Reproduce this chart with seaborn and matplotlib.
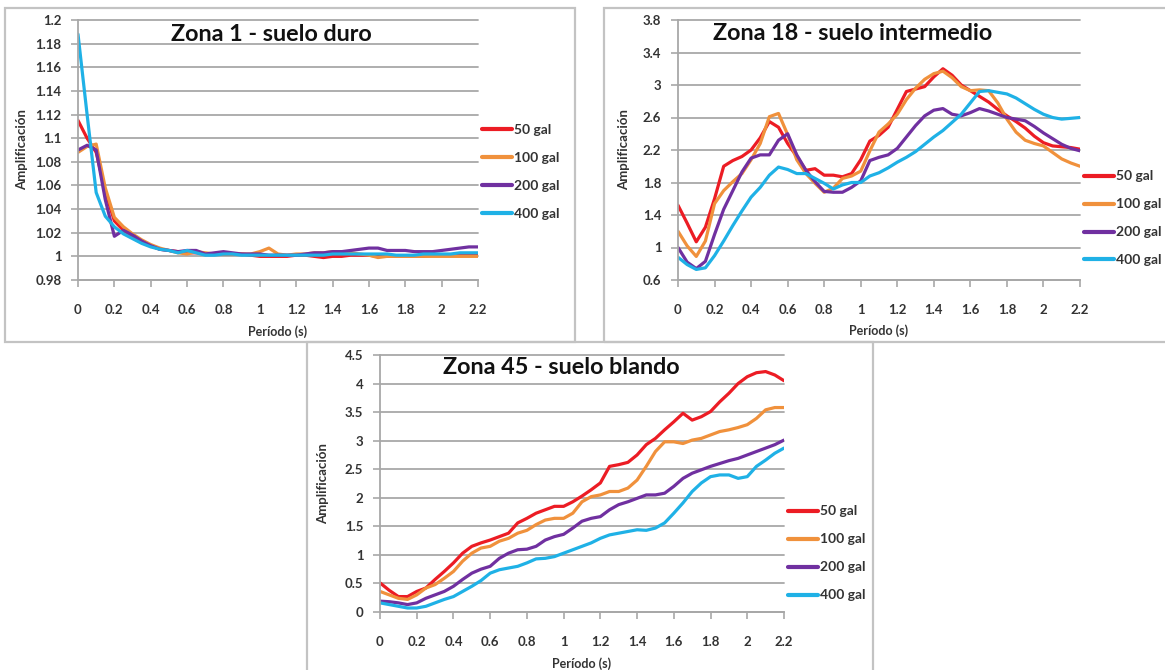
import numpy as np
import pandas as pd
import seaborn as sns
import matplotlib
matplotlib.use('Agg')
import matplotlib.pyplot as plt
from matplotlib.patches import Rectangle

# periods (s), same grid for the three zones
periodo = [0.0, 0.05, 0.1, 0.15, 0.2, 0.25, 0.3, 0.35, 0.4, 0.45, 0.5, 0.55, 0.6, 0.65, 0.7,
           0.75, 0.8, 0.85, 0.9, 0.95, 1.0, 1.05, 1.1, 1.15, 1.2, 1.25, 1.3, 1.35, 1.4, 1.45,
           1.5, 1.55, 1.6, 1.65, 1.7, 1.75, 1.8, 1.85, 1.9, 1.95, 2.0, 2.05, 2.1, 2.15, 2.2]
series = ['50 gal', '100 gal', '200 gal', '400 gal']
colores = ['#ec1c24', '#f0913c', '#7030a0', '#1fb1e6']

# Zona 1 - suelo duro
z1_50 = [1.115, 1.100, 1.088, 1.055, 1.030, 1.022, 1.017, 1.013, 1.009, 1.006, 1.005, 1.004, 1.003, 1.003, 1.002,
         1.002, 1.002, 1.002, 1.002, 1.001, 1.000, 1.000, 1.000, 1.000, 1.001, 1.001, 1.000, 0.999, 1.000, 1.000,
         1.001, 1.001, 1.001, 1.000, 1.000, 1.000, 1.000, 1.000, 1.000, 1.001, 1.001, 1.001, 1.001, 1.001, 1.001]
z1_100 = [1.088, 1.093, 1.095, 1.058, 1.033, 1.025, 1.019, 1.014, 1.010, 1.007, 1.005, 1.003, 1.002, 1.004, 1.003,
          1.002, 1.002, 1.002, 1.002, 1.002, 1.004, 1.007, 1.002, 1.001, 1.002, 1.002, 1.003, 1.003, 1.004, 1.004,
          1.003, 1.002, 1.001, 0.999, 1.000, 1.000, 1.000, 1.000, 1.000, 1.000, 1.000, 1.000, 1.000, 1.000, 1.000]
z1_200 = [1.090, 1.094, 1.090, 1.048, 1.017, 1.022, 1.018, 1.013, 1.009, 1.006, 1.005, 1.004, 1.005, 1.005, 1.002,
          1.003, 1.004, 1.003, 1.002, 1.002, 1.002, 1.001, 1.001, 1.001, 1.001, 1.002, 1.003, 1.003, 1.004, 1.004,
          1.005, 1.006, 1.007, 1.007, 1.005, 1.005, 1.005, 1.004, 1.004, 1.004, 1.005, 1.006, 1.007, 1.008, 1.008]
z1_400 = [1.188, 1.120, 1.054, 1.034, 1.025, 1.019, 1.015, 1.011, 1.008, 1.006, 1.005, 1.003, 1.005, 1.003, 1.001,
          1.001, 1.002, 1.002, 1.001, 1.001, 1.001, 1.001, 1.001, 1.001, 1.001, 1.001, 1.001, 1.001, 1.002, 1.002,
          1.002, 1.002, 1.002, 1.002, 1.002, 1.001, 1.001, 1.001, 1.002, 1.002, 1.002, 1.002, 1.003, 1.003, 1.003]

# Zona 18 - suelo intermedio
z18_50 = [1.52, 1.30, 1.07, 1.25, 1.60, 2.00, 2.07, 2.12, 2.20, 2.35, 2.55, 2.48, 2.28, 2.12, 1.95,
          1.97, 1.89, 1.89, 1.87, 1.91, 2.08, 2.31, 2.38, 2.48, 2.70, 2.92, 2.95, 2.98, 3.10, 3.20,
          3.12, 3.00, 2.93, 2.86, 2.79, 2.70, 2.62, 2.55, 2.47, 2.37, 2.29, 2.25, 2.24, 2.23, 2.21]
z18_100 = [1.20, 1.02, 0.89, 1.08, 1.54, 1.70, 1.81, 1.91, 2.08, 2.28, 2.61, 2.65, 2.39, 2.08, 1.91,
           1.79, 1.68, 1.73, 1.85, 1.88, 1.94, 2.19, 2.42, 2.52, 2.64, 2.82, 2.96, 3.07, 3.14, 3.17,
           3.09, 2.98, 2.93, 2.94, 2.93, 2.78, 2.58, 2.42, 2.32, 2.28, 2.25, 2.17, 2.09, 2.04, 2.00]
z18_200 = [1.00, 0.82, 0.74, 0.83, 1.16, 1.47, 1.70, 1.93, 2.10, 2.14, 2.14, 2.32, 2.40, 2.14, 1.95,
           1.81, 1.69, 1.68, 1.68, 1.74, 1.82, 2.07, 2.11, 2.14, 2.22, 2.36, 2.50, 2.62, 2.69, 2.71,
           2.64, 2.62, 2.66, 2.71, 2.68, 2.64, 2.60, 2.58, 2.56, 2.49, 2.41, 2.34, 2.27, 2.22, 2.19]
z18_400 = [0.88, 0.79, 0.73, 0.75, 0.90, 1.08, 1.27, 1.45, 1.62, 1.74, 1.89, 1.99, 1.96, 1.91, 1.91,
           1.85, 1.79, 1.72, 1.77, 1.80, 1.80, 1.88, 1.92, 1.98, 2.05, 2.11, 2.18, 2.27, 2.36, 2.44,
           2.54, 2.64, 2.78, 2.92, 2.93, 2.91, 2.89, 2.84, 2.77, 2.70, 2.64, 2.60, 2.58, 2.59, 2.60]

# Zona 45 - suelo blando
z45_50 = [0.51, 0.38, 0.27, 0.27, 0.36, 0.42, 0.57, 0.71, 0.86, 1.03, 1.15, 1.21, 1.26, 1.32, 1.38,
          1.56, 1.64, 1.73, 1.79, 1.85, 1.85, 1.93, 2.03, 2.14, 2.26, 2.55, 2.58, 2.62, 2.75, 2.93,
          3.04, 3.19, 3.33, 3.48, 3.36, 3.42, 3.51, 3.68, 3.83, 4.00, 4.12, 4.19, 4.21, 4.15, 4.05]
z45_100 = [0.36, 0.30, 0.24, 0.22, 0.30, 0.42, 0.48, 0.59, 0.71, 0.89, 1.03, 1.12, 1.15, 1.24, 1.29,
           1.38, 1.43, 1.53, 1.61, 1.64, 1.64, 1.73, 1.93, 2.02, 2.05, 2.11, 2.11, 2.17, 2.31, 2.55,
           2.81, 2.98, 2.98, 2.95, 3.01, 3.04, 3.10, 3.16, 3.19, 3.23, 3.28, 3.39, 3.54, 3.58, 3.58]
z45_200 = [0.19, 0.18, 0.16, 0.13, 0.16, 0.24, 0.30, 0.36, 0.45, 0.57, 0.68, 0.75, 0.80, 0.94, 1.03,
           1.09, 1.10, 1.15, 1.26, 1.32, 1.36, 1.47, 1.59, 1.64, 1.67, 1.79, 1.88, 1.93, 1.99, 2.05,
           2.05, 2.08, 2.20, 2.34, 2.43, 2.49, 2.55, 2.60, 2.65, 2.69, 2.75, 2.81, 2.87, 2.93, 3.01]
z45_400 = [0.16, 0.13, 0.10, 0.07, 0.07, 0.10, 0.16, 0.22, 0.27, 0.36, 0.45, 0.55, 0.68, 0.74, 0.77,
           0.80, 0.86, 0.93, 0.94, 0.97, 1.03, 1.09, 1.15, 1.21, 1.29, 1.35, 1.38, 1.41, 1.44, 1.43,
           1.47, 1.56, 1.73, 1.91, 2.11, 2.26, 2.37, 2.40, 2.40, 2.34, 2.37, 2.55, 2.66, 2.78, 2.87]

titulos = ['Zona 1 - suelo duro', 'Zona 18 - suelo intermedio', 'Zona 45 - suelo blando']
yticks1 = [0.98, 1.0, 1.02, 1.04, 1.06, 1.08, 1.1, 1.12, 1.14, 1.16, 1.18, 1.2]
yticks18 = [0.6, 1.0, 1.4, 1.8, 2.2, 2.6, 3.0, 3.4, 3.8]
yticks45 = [0, 0.5, 1, 1.5, 2, 2.5, 3, 3.5, 4, 4.5]
xticks = [0, 0.2, 0.4, 0.6, 0.8, 1, 1.2, 1.4, 1.6, 1.8, 2, 2.2]

sns.set_style('white')
plt.rcParams['font.family'] = ['Lato', 'DejaVu Sans']

W, H = 1165, 670
fig = plt.figure(figsize=(W / 100, H / 100), dpi=100)
gris_txt = '#333333'


def px_axes(x0, y0, x1, y1):
    # pixel box (top-left origin) -> figure axes
    return fig.add_axes([x0 / W, 1 - y1 / H, (x1 - x0) / W, (y1 - y0) / H])


def frame(x0, y0, x1, y1):
    fig.add_artist(Rectangle((x0 / W, 1 - y1 / H), (x1 - x0) / W, (y1 - y0) / H,
                             transform=fig.transFigure, fill=False, ec='#c3c3c3', lw=1.6))


def zona(ax, vals, title, yticks, tpos, leg_y, ylab_x, xlab_y):
    df = pd.DataFrame({
        'Periodo': periodo * 4,
        'Amp': sum(vals, []),
        'Serie': np.repeat(series, len(periodo)),
    })
    sns.lineplot(data=df, x='Periodo', y='Amp', hue='Serie', hue_order=series,
                 palette=colores, lw=2.3, estimator=None, solid_joinstyle='round', ax=ax)
    ax.set_xlim(0, 2.2)
    ax.set_ylim(yticks[0], yticks[-1])
    ax.set_xticks(xticks)
    ax.set_xticklabels([f'{v:g}' for v in xticks])
    ax.set_yticks(yticks)
    ax.set_yticklabels([f'{v:g}' for v in yticks])
    ax.yaxis.grid(True, color='#a8a8a8', lw=1.3)
    ax.set_axisbelow(True)
    for s in ['top', 'right']:
        ax.spines[s].set_visible(False)
    for s in ['left', 'bottom']:
        ax.spines[s].set_color('#a8a8a8')
        ax.spines[s].set_linewidth(1.3)
    ax.tick_params(bottom=True, left=True, direction='out', length=5, width=1.2,
                   color='#a8a8a8', labelsize=9.5, labelcolor=gris_txt)
    ax.tick_params(axis='x', pad=12)
    ax.tick_params(axis='y', pad=7)
    for lab in ax.get_xticklabels() + ax.get_yticklabels():
        lab.set_fontweight('bold')
    for g in ax.get_ygridlines():
        g.set_clip_on(False)
    ax.set_xlabel('Período (s)', fontsize=9, fontweight='bold', color=gris_txt)
    ax.set_ylabel('Amplificación', fontsize=9.5, fontweight='bold', color=gris_txt)
    ax.xaxis.set_label_coords(0.5, xlab_y)
    ax.yaxis.set_label_coords(ylab_x, 0.5)
    ax.text(tpos[0], tpos[1], title, transform=ax.transAxes, ha='center', va='center',
            fontsize=16.8, fontweight='bold', color='#111111')
    sns.move_legend(ax, 'center left', bbox_to_anchor=(1.01, leg_y), frameon=False, title=None,
                    fontsize=10, handlelength=2.15, handletextpad=0.15, labelspacing=1.15,
                    borderpad=0, borderaxespad=0)
    for t in ax.get_legend().get_texts():
        t.set_fontweight('bold')
        t.set_color(gris_txt)
    for h in ax.get_legend().get_lines():
        h.set_linewidth(3)


frame(5, 8, 575, 342)
frame(604, 8, 1170, 342)
frame(307, 342, 873, 672)

ax1 = px_axes(78, 20, 478, 280)
zona(ax1, [z1_50, z1_100, z1_200, z1_400], titulos[0], yticks1,
     (0.4825, 0.946), 0.415, -0.126, -0.173)

ax2 = px_axes(678, 20, 1080, 280)
zona(ax2, [z18_50, z18_100, z18_200, z18_400], titulos[1], yticks18,
     (0.435, 0.95), 0.237, -0.118, -0.169)

ax3 = px_axes(380, 355, 784, 612)
zona(ax3, [z45_50, z45_100, z45_200, z45_400], titulos[2], yticks45,
     (0.45, 0.953), 0.228, -0.127, -0.175)

fig.savefig('out.png', dpi=100, facecolor='white')
